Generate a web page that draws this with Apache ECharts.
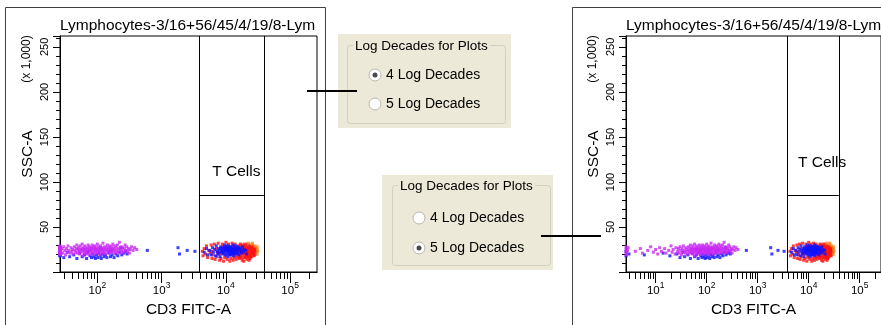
<!DOCTYPE html>
<html>
<head>
<meta charset="utf-8">
<script src="https://cdn.jsdelivr.net/npm/echarts@6/dist/echarts.min.js"></script>
<style>
  html, body { margin: 0; padding: 0; background: #fff; }
  #chart { width: 881px; height: 325px; }
</style>
</head>
<body>
<div id="chart"></div>
<script>
// events: [CD3 FITC-A, SSC-A (x 1,000)]
const magentaEvents = [
  [2.5,19],[2.5,22],[2.6,25],[2.6,28],[2.7,20],[2.8,24],[2.9,27],[4,23],[5,26],[5.5,21],[7,24],[8,28],[9,22],[10,25],[11,20],[12,27],[13,23],[15,26],[16,21],[18,24],[20,29],[21,22],[22,25],[24,20],[25,27],
  [27,23],[28,26],[29,21],[30,28],[31,24],[32,19],[33,26],[34,22],[35,29],[36,24],[38,21],[39,27],[40,23],[41,25],[42,20],[44,28],[45,24],[46,22],[47,26],[48,30],[49,21],[50,25],
  [51,27],[52,23],[53,20],[54,29],[55,25],[56,22],[57,26],[58,31],[59,24],[60,18],[61,27],[62,22],[63,25],[64,29],[65,21],[66,24],[67,27],[68,23],[69,20],[70,26],[72,30],[73,22],[74,25],[75,28],[76,19],[78,24],[79,27],[80,22],[82,26],[83,30],[84,21],[86,25],[87,28],[88,23],[90,20],[91,26],[92,29],[94,24],[95,22],[96,27],[98,25],[100,31],
  [101,21],[103,24],[105,28],[107,23],[109,26],[110,19],[112,29],[114,22],[116,25],[118,27],[120,24],[122,32],[124,21],[126,26],[128,23],[130,28],[133,25],[135,20],[138,27],[140,23],[143,30],[145,25],[148,22],[150,27],[153,24],[156,29],[159,21],[162,26],[165,23],[168,28],[171,25],[174,31],[177,22],[180,26],[184,24],[188,29],[192,21],[196,27],[200,24],
  [205,30],[210,22],[215,26],[220,33],[225,25],[230,21],[236,28],[242,24],[248,27],[255,22],[262,26],[270,30],[278,24],[286,28],[295,23],[305,26],[315,21],[325,25],[340,28],[360,24],[380,27],[410,25]
];
const blueEvents = [
  [2.6,18],[2.6,23],[3,20],[6,19],[14,21],[19,18],[26,20],[30,16],[34,22],[37,17],[43,19],[48,15],[53,21],[58,17],[63,19],[68,15],[71,22],[77,18],[81,16],[85,20],[89,17],[93,15],[97,19],[102,16],[106,21],[111,18],[115,15],[121,20],[127,17],[134,19],[141,16],[152,21],[160,17],[170,19],[182,16],[195,20],[208,18],[222,22],[240,19],[258,21],[275,23],[290,20],[75,24],[110,26],[160,24],[230,27],
  [600,24],[1800,27],[1900,20],[2500,24],[3300,23],
  [4600,22],[5000,26],[5200,19],
  [5600,24],[5900,19],[6200,27],[6400,22],[6700,25],[6900,18],[7100,29],[7300,23],[7500,20],[7700,26],[7900,24],[8100,17],[8300,28],[8500,22],[8700,25],[8900,20],[9100,27],[9300,23],[9500,30],[9700,19],[9900,25],
  [10100,22],[10300,27],[10500,24],[10700,17],[10900,29],[11100,21],[11300,26],[11500,23],[11700,19],[11900,28],[12100,24],[12300,21],[12500,26],[12700,23],[12900,30],[13100,18],[13300,25],[13500,22],[13700,27],[13900,24],[14100,20],[14400,26],[14700,23],[15000,28],[15300,21],[15600,25],[15900,19],[16200,27],[16500,23],[16900,26],[17300,21],[17700,24],[18200,28],[18700,22],[19200,25],
  [9200,21],[9600,24],[10000,26],[10400,20],[10800,23],[11200,25],[11600,28],[12000,22],[12400,25],[12800,20],[13200,23],[13600,26],[14000,29],[14500,22],[15000,25],[8600,23],[8200,26],[7800,21],[9800,28],[10600,26],[11400,19],[12200,27],[13000,24],[13800,21],[14800,27],[11000,24],[12600,22],[9400,26],[10200,29],[11800,25],
  [20500,24],[21000,20]
];
const redEvents = [
  [4300,23],[4400,18],[4600,26],[4800,20],[5000,29],[5200,16],[5400,24],[5700,21],[5900,30],[6100,15],[6300,19],[6600,31],[6800,14],[7200,17],[7600,32],[8000,13],[8400,15],[8800,31],[9200,12],[9600,16],[10000,33],[10500,14],[11000,31],[11500,12],[12000,15],[12500,32],[13000,13],[13500,16],[14000,31],[14500,14],[15000,17],
  [7000,26],[8000,20],[9000,28],[10000,18],[11000,27],[12000,19],[13000,29],[14000,18],[6000,23],[7400,22],
  [15500,20],[15800,24],[16000,28],[16200,15],[16500,22],[16800,26],[17000,18],[17200,30],[17500,21],[17800,25],[18000,13],[18300,27],[18600,19],[18900,23],[19200,31],[19500,16],[19800,26],[20000,21],[20300,29],[20600,18],[20900,24],[21200,14],[21500,27],[21800,20],[22100,25],[22400,17],[22700,30],[23000,22],[23300,26],[23600,15],[23900,19],[24200,28],[24500,23],[24800,21],[25100,17],[25400,26],[25700,24],[26000,19],[26300,29],[26600,22],[27000,25],[27400,18],[27800,27],[28200,21],[28600,24],[29000,20],[29500,26],[30000,23],
  [16400,17],[17400,23],[18400,29],[19400,20],[20400,25],[21400,22],[22400,27],[23400,19],[24400,25],[25400,21],[26400,27],[16800,31],[19000,12],[21000,31],[23000,13],[18000,24],[20000,16],[22000,23],[24000,16],[26000,23],[28000,19],[15800,29],[17600,16],[19600,28],[21600,17],[23600,29],[25600,30],[27600,22]
];
const orangeEvents = [
  [25500,31],[28500,29],[31000,25],[30500,20],[31500,23],[26000,32],[30800,28],[22500,32]
];

// T Cells gate (CD3 interval, SSC lower bound)
const gateX = [3800, 39000];
const gateY = 85;
const sscMax = 262.144;

// two views: 4 and 5 log decades
const plotRanges = [[26.2144, 262144], [2.62144, 262144]];
const plotDecades = [[2, 3, 4, 5], [1, 2, 3, 4, 5]];
const tCellsLabelY = [111, 121];

const title = 'Lymphocytes-3/16+56/45/4/19/8-Lym';
const FONT = 'Arial, "Liberation Sans", sans-serif';

const lg = v => Math.log10(v);
const minorTicks = [];
for (let d = 0; d <= 5; d++) for (let k = 2; k <= 9; k++) minorTicks.push(lg(k) + d);

const layouts = [{ left: 60, width: 257 }, { left: 626, width: 257 }];

const chart = echarts.init(document.getElementById('chart'));

const grids = [], xAxes = [], yAxes = [], series = [], graphic = [];

function toPts(events, range) {
  const lo = lg(range[0]);
  return events.map(e => [Math.max(lg(e[0]), lo), e[1]]);
}

for (let i = 0; i < 2; i++) {
  const range = plotRanges[i];
  const lay = layouts[i];
  grids.push({ left: lay.left, top: 36, width: lay.width, height: 236, show: true,
    borderColor: '#000', borderWidth: 1, backgroundColor: '#fff' });

  const base = { gridIndex: i, type: 'value', min: lg(range[0]), max: lg(range[1]), position: 'bottom',
    axisLine: { lineStyle: { color: '#000', width: 1 } }, splitLine: { show: false } };
  xAxes.push(Object.assign({}, base, {
    axisTick: { length: 7, customValues: minorTicks, lineStyle: { color: '#000' } },
    axisLabel: { show: false }
  }));
  xAxes.push(Object.assign({}, base, {
    axisTick: { length: 11, customValues: plotDecades[i], lineStyle: { color: '#000' } },
    axisLabel: {
      customValues: plotDecades[i], margin: 9,
      formatter: v => '{b|10}{s|' + Math.round(v) + '}',
      rich: {
        b: { fontSize: 11.5, fontFamily: FONT, color: '#000', lineHeight: 16, verticalAlign: 'bottom' },
        s: { fontSize: 8.5, fontFamily: FONT, color: '#000', lineHeight: 10, verticalAlign: 'top' }
      }
    },
    name: 'CD3 FITC-A', nameLocation: 'middle', nameGap: 29,
    nameTextStyle: { fontSize: 15.5, fontFamily: FONT, color: '#000' }
  }));
  yAxes.push({
    gridIndex: i, type: 'value', min: 0, max: sscMax, interval: 50,
    axisLine: { lineStyle: { color: '#000' } },
    axisTick: { length: 7, lineStyle: { color: '#000' } },
    minorTick: { show: true, splitNumber: 5, length: 4, lineStyle: { color: '#000' } },
    splitLine: { show: false }, minorSplitLine: { show: false },
    axisLabel: { rotate: 90, fontSize: 11, fontFamily: FONT, color: '#000', margin: 10,
      showMaxLabel: false, formatter: v => (v > 0 && v <= 250) ? String(v) : '' },
    name: 'SSC-A', nameLocation: 'middle', nameGap: 24,
    nameTextStyle: { fontSize: 15.5, fontFamily: FONT, color: '#000' }
  });

  const xi = i * 2 + 1;
  const sc = (name, data, color) => ({
    type: 'scatter', name, xAxisIndex: xi, yAxisIndex: i, data: toPts(data, range),
    symbol: 'rect', symbolSize: 3, itemStyle: { color }, silent: true
  });
  series.push(sc('red', redEvents, '#FF1010'));
  series.push(sc('orange', orangeEvents, '#FF8A20'));
  series.push(sc('blue', blueEvents, '#1010FF'));
  const mag = sc('magenta', magentaEvents, '#C828F2');
  mag.markLine = {
    silent: true, symbol: 'none', animation: false,
    lineStyle: { color: '#000', width: 1, type: 'solid' }, label: { show: false },
    data: [
      [{ coord: [lg(gateX[0]), 0] }, { coord: [lg(gateX[0]), sscMax] }],
      [{ coord: [lg(gateX[1]), 0] }, { coord: [lg(gateX[1]), sscMax] }],
      [{ coord: [lg(gateX[0]), gateY] }, { coord: [lg(gateX[1]), gateY] }]
    ]
  };
  mag.markPoint = {
    silent: true, symbol: 'circle', symbolSize: 1, itemStyle: { color: 'rgba(0,0,0,0)' },
    label: { show: true, position: 'right', distance: 0, formatter: 'T Cells',
      fontSize: 15.5, fontFamily: FONT, color: '#000' },
    data: [{ coord: [lg(gateX[0]) + 0.2, tCellsLabelY[i]] }]
  };
  series.push(mag);

  graphic.push({ type: 'text', left: lay.left, top: 18, z: 10,
    style: { text: title, fontSize: 15.5, fontFamily: FONT, fill: '#000' } });
  graphic.push({ type: 'text', x: lay.left - 33, y: 59, rotation: Math.PI / 2, z: 10,
    style: { text: '(x 1,000)', fontSize: 12, fontFamily: FONT, fill: '#000', align: 'center', verticalAlign: 'middle' } });
}

// outer frames
graphic.push({ type: 'rect', shape: { x: 5.5, y: 7.5, width: 320, height: 340 }, z: -1,
  style: { fill: 'none', stroke: '#404040', lineWidth: 1 } });
graphic.push({ type: 'rect', shape: { x: 572.5, y: 7.5, width: 340, height: 340 }, z: -1,
  style: { fill: 'none', stroke: '#404040', lineWidth: 1 } });

// option dialogs
function dialog(x, y, w, h, gb, radios, selected) {
  const ch = [
    { type: 'rect', shape: { x: 0, y: 0, width: w, height: h }, style: { fill: '#ECE9D8' } },
    { type: 'rect', shape: { x: gb[0] + 0.5, y: gb[1] + 0.5, width: gb[2], height: gb[3], r: 3 },
      style: { fill: 'none', stroke: '#D0D0BF', lineWidth: 1 } },
    { type: 'text', x: gb[0] + 6, y: gb[1] + 1, z: 2,
      style: { text: 'Log Decades for Plots', fontSize: 13.5, fontFamily: FONT, fill: '#000',
        verticalAlign: 'middle', backgroundColor: '#ECE9D8', padding: [0, 2] } }
  ];
  ['4 Log Decades', '5 Log Decades'].forEach((t, k) => {
    const cx = radios[0], cy = radios[1] + k * radios[2];
    ch.push({ type: 'circle', shape: { cx, cy, r: 6 }, style: { fill: '#fff', stroke: '#B8B8B0', lineWidth: 1 } });
    if (k === selected) ch.push({ type: 'circle', shape: { cx, cy, r: 2.5 }, style: { fill: '#4A4A4A' } });
    ch.push({ type: 'text', x: cx + 11, y: cy, style: { text: t, fontSize: 14, fontFamily: FONT, fill: '#000', verticalAlign: 'middle' } });
  });
  return { type: 'group', x, y, z: 20, children: ch };
}
graphic.push(dialog(338, 34, 173, 94, [9, 11, 158, 78], [37, 41, 29], 0));
graphic.push(dialog(382, 175, 171, 95, [10, 10, 158, 80], [37, 43, 30], 1));

// connectors
graphic.push({ type: 'line', shape: { x1: 307, y1: 91, x2: 357, y2: 91 }, z: 30, style: { stroke: '#000', lineWidth: 2 } });
graphic.push({ type: 'line', shape: { x1: 541, y1: 236, x2: 601, y2: 236 }, z: 30, style: { stroke: '#000', lineWidth: 2 } });

chart.setOption({
  animation: false,
  backgroundColor: '#fff',
  grid: grids,
  xAxis: xAxes,
  yAxis: yAxes,
  series: series,
  graphic: graphic
});
</script>
</body>
</html>
